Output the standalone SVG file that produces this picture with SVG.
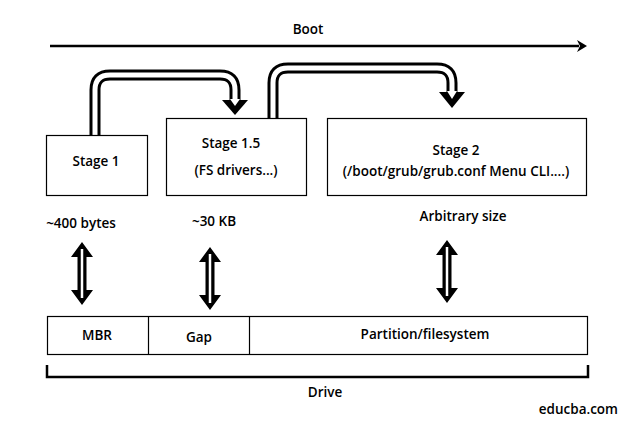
<svg xmlns="http://www.w3.org/2000/svg" width="631" height="431" viewBox="0 0 631 431">
<style>
.t{font-family:"Open Sans","Liberation Sans",sans-serif;font-size:13.5px;font-weight:600;fill:#000;text-anchor:middle}
.box{fill:#fff;stroke:#000;stroke-width:1.2}
.outer{fill:none;stroke:#000;stroke-width:11}
.inner{fill:none;stroke:#fff;stroke-width:5}
</style>
<defs>
<g id="dbl">
<polygon points="0,0 11,15 4.5,15 4.5,48 11,48 0,63 -11,48 -4.5,48 -4.5,15 -11,15" fill="#000"/>
<line x1="0" y1="7" x2="0" y2="56" stroke="#fff" stroke-width="2.5"/>
</g>
</defs>
<rect width="631" height="431" fill="#fff"/>
<g id="connectors">
<line x1="50" y1="46" x2="579" y2="46" stroke="#000" stroke-width="2.5"/>
<polygon points="577,40 587,46 577,52 580,46" fill="#000"/>
<path class="outer" d="M95,136 V90 Q95,75 110,75 H220 Q235,75 235,90 V101"/>
<path class="inner" d="M95,136 V90 Q95,75 110,75 H220 Q235,75 235,90 V101"/>
<polygon points="222,100 248,100 235,115" fill="#000"/>
<polygon points="230,99 240,99 235,106" fill="#fff"/>
<path class="outer" d="M273,118 V83 Q273,68 288,68 H437 Q452,68 452,83 V93"/>
<path class="inner" d="M273,118 V83 Q273,68 288,68 H437 Q452,68 452,83 V93"/>
<polygon points="439,92 465,92 452,108" fill="#000"/>
<polygon points="447,91 457,91 452,99" fill="#fff"/>
<use href="#dbl" x="82" y="242"/>
<use href="#dbl" x="210" y="247"/>
<use href="#dbl" x="447" y="240"/>
<path d="M47,365 V377 H588 V365" fill="none" stroke="#000" stroke-width="2.5"/>
</g>
<text class="t" x="308" y="34">Boot</text>
<g id="stage1">
<rect class="box" x="46.5" y="135.5" width="101" height="60"/>
<text class="t" x="96" y="166">Stage 1</text>
</g>
<g id="stage15">
<rect class="box" x="166.5" y="118.5" width="140" height="77"/>
<text class="t" x="231" y="148">Stage 1.5</text>
<text class="t" x="236" y="175">(FS drivers...)</text>
</g>
<g id="stage2">
<rect class="box" x="327.5" y="118.5" width="259" height="77"/>
<text class="t" x="456" y="155">Stage 2</text>
<text class="t" x="456" y="176">(/boot/grub/grub.conf Menu CLI....)</text>
</g>
<text class="t" x="81" y="228">~400 bytes</text>
<text class="t" x="214" y="226">~30 KB</text>
<text class="t" x="463" y="221">Arbitrary size</text>
<g id="drive">
<rect class="box" x="47.5" y="316.5" width="540" height="38"/>
<line x1="148.5" y1="316.5" x2="148.5" y2="354.5" stroke="#000" stroke-width="1.2"/>
<line x1="249.5" y1="316.5" x2="249.5" y2="354.5" stroke="#000" stroke-width="1.2"/>
<text class="t" x="97" y="340">MBR</text>
<text class="t" x="199" y="342">Gap</text>
<text class="t" x="425" y="339">Partition/filesystem</text>
</g>
<text class="t" x="325" y="397">Drive</text>
<text class="t" x="618" y="414" style="text-anchor:end">educba.com</text>
</svg>
